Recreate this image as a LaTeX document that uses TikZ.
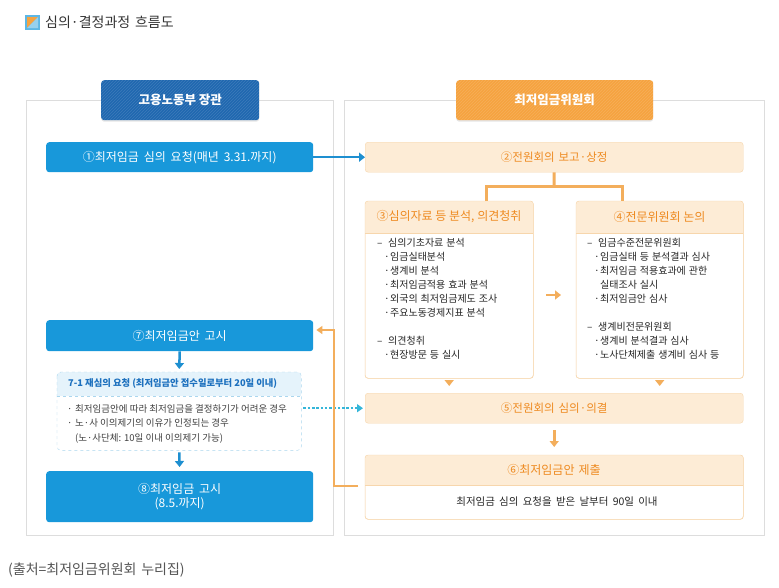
\documentclass[tikz,border=0pt]{standalone}
\usepackage{fontspec}
\setmainfont{Noto Sans CJK KR}
\usetikzlibrary{arrows.meta,patterns,shadows}
\definecolor{mblue}{RGB}{24,152,218}
\definecolor{dblue}{RGB}{32,104,176}
\definecolor{horange}{RGB}{245,163,64}
\definecolor{peach}{RGB}{253,236,214}
\definecolor{peachline}{RGB}{247,214,172}
\definecolor{otext}{RGB}{238,138,32}
\definecolor{oline}{RGB}{243,174,92}
\definecolor{barrow}{RGB}{30,143,208}
\definecolor{dotc}{RGB}{53,182,217}
\definecolor{panelc}{RGB}{221,221,221}
\definecolor{lblue}{RGB}{229,243,251}
\definecolor{lbline}{RGB}{170,214,238}
\definecolor{hbtext}{RGB}{28,112,190}
\definecolor{titlec}{RGB}{51,51,51}
\definecolor{srcc}{RGB}{85,85,85}
\newcommand\mydash{\makebox[11pt][l]{–}}
\newcommand\mybul{\hspace*{7pt}\makebox[6pt][l]{·}}
\newcommand\mybulb{\makebox[8pt][l]{·}}
\newcommand\wsp[1]{\spaceskip=#1\fontdimen2\font\relax}
\begin{document}
\begin{tikzpicture}[x=1pt,y=-1pt,
  panel/.style={draw=panelc,line width=1pt,fill=white,inner sep=0},
  hdrbox/.style={rounded corners=3pt,text=white,inner sep=0,
    font=\fontsize{12.5}{14}\selectfont\bfseries,
    drop shadow={shadow xshift=0pt,shadow yshift=-1.5pt,opacity=0.2},
    postaction={pattern=north east lines,pattern color=white,opacity=0.13}},
  bluebox/.style={rounded corners=3pt,fill=mblue,text=white,inner sep=0,
    font=\fontsize{12}{14}\selectfont\wsp{1.8},align=center},
  peachbox/.style={rounded corners=3pt,fill=peach,draw=peachline,text=otext,inner sep=0,
    font=\fontsize{11.5}{14}\selectfont\wsp{1.5}},
  framebox/.style={rounded corners=3pt,fill=white,draw=peachline,inner sep=0},
  hdrtxt/.style={text=otext,inner sep=0,font=\fontsize{12}{14}\selectfont},
  bodytxt/.style={inner sep=0,align=left,text=black!85,font=\fontsize{10}{14}\selectfont\wsp{1.3}},
  oarr/.style={draw=oline,line width=3pt,-{Triangle[length=6pt,width=9pt]}},
  barr/.style={draw=barrow,line width=2.5pt,-{Triangle[length=6pt,width=9pt]}},
  oconn/.style={draw=oline,line width=3pt},
  retline/.style={draw=oline,line width=2pt,-{Triangle[length=6pt,width=8pt]}},
  dotline/.style={draw=dotc,line width=2.5pt,dash pattern=on 2.5pt off 1.8pt,-{Triangle[length=6pt,width=8pt]}}
]
\useasboundingbox[fill=white] (0,0) rectangle (779,587);

% title
\fill[mblue!70] (25,15) rectangle (40,30);
\fill[horange] (27,17) -- (38,17) -- (27,28) -- cycle;
\fill[mblue!45] (38,17) -- (38,28) -- (27,28) -- cycle;
\node[anchor=west,inner sep=0,text=titlec,font=\fontsize{14}{16}\selectfont\wsp{1.5}] (title) at (45,22.5) {심의·결정과정 흐름도};

% panels
\node[panel,minimum width=307,minimum height=435,anchor=north west] (p1) at (26,100) {};
\node[panel,minimum width=420,minimum height=435,anchor=north west] (p2) at (344,100) {};

% headers
\node[hdrbox,fill=dblue,minimum width=158,minimum height=40,anchor=north west] (h1) at (101,80) {고용노동부 장관};
\node[hdrbox,fill=horange,minimum width=197,minimum height=40,anchor=north west] (h2) at (456,80) {최저임금위원회};

% box 1
\node[bluebox,minimum width=267,minimum height=30,anchor=north west] (b1) at (46,142) {①최저임금 심의 요청(매년 3.31.까지)};
% box 2
\node[peachbox,minimum width=378,minimum height=30,anchor=north west] (b2) at (365,142) {②전원회의 보고·상정};

% box 3
\node[framebox,minimum width=168,minimum height=177,anchor=north west] (b3) at (365,201) {};
\begin{scope}
\clip[rounded corners=3pt] (b3.north west) rectangle (b3.south east);
\fill[peach] (365,201) rectangle (533,233);
\end{scope}
\draw[peachline] (365,233) -- (533,233);
\draw[peachline,rounded corners=3pt] (b3.north west) rectangle (b3.south east);
\node[hdrtxt] (b3h) at (449,217) {③심의자료 등 분석, 의견청취};
\node[bodytxt,anchor=north west] (b3b) at (377,238.2) {\mydash 심의기초자료 분석\\
\mybul 임금실태분석\\
\mybul 생계비 분석\\
\mybul 최저임금적용 효과 분석\\
\mybul 외국의 최저임금제도 조사\\
\mybul 주요노동경제지표 분석\\[14pt]
\mydash 의견청취\\
\mybul 현장방문 등 실시};

% box 4
\node[framebox,minimum width=167,minimum height=177,anchor=north west] (b4) at (576,201) {};
\begin{scope}
\clip[rounded corners=3pt] (b4.north west) rectangle (b4.south east);
\fill[peach] (576,201) rectangle (743,233);
\end{scope}
\draw[peachline] (576,233) -- (743,233);
\draw[peachline,rounded corners=3pt] (b4.north west) rectangle (b4.south east);
\node[hdrtxt] (b4h) at (659.5,217) {④전문위원회 논의};
\node[bodytxt,anchor=north west] (b4b) at (587,238.2) {\mydash 임금수준전문위원회\\
\mybul 임금실태 등 분석결과 심사\\
\mybul 최저임금 적용효과에 관한\\
\hspace*{13pt}실태조사 실시\\
\mybul 최저임금안 심사\\[14pt]
\mydash 생계비전문위원회\\
\mybul 생계비 분석결과 심사\\
\mybul 노사단체제출 생계비 심사 등};

% box 5
\node[peachbox,minimum width=378,minimum height=30,anchor=north west] (b5) at (365,393) {⑤전원회의 심의·의결};

% box 6
\node[framebox,minimum width=378,minimum height=64,anchor=north west] (b6) at (365,455) {};
\begin{scope}
\clip[rounded corners=3pt] (b6.north west) rectangle (b6.south east);
\fill[peach] (365,455) rectangle (743,485);
\end{scope}
\draw[peachline] (365,485) -- (743,485);
\draw[peachline,rounded corners=3pt] (b6.north west) rectangle (b6.south east);
\node[hdrtxt,font=\fontsize{12}{14}\selectfont\wsp{1.5}] (b6h) at (554,470) {⑥최저임금안 제출};
\node[bodytxt,font=\fontsize{10.5}{14}\selectfont\wsp{1.8}] (b6b) at (557,502) {최저임금 심의 요청을 받은 날부터 90일 이내};

% box 7
\node[bluebox,minimum width=267,minimum height=31,anchor=north west] (b7) at (46,320) {⑦최저임금안 고시};

% box 7-1
\node[inner sep=0,minimum width=244,minimum height=78,anchor=north west] (b71) at (57,372) {};
\begin{scope}
\clip[rounded corners=4pt] (b71.north west) rectangle (b71.south east);
\fill[lblue] (57,372) rectangle (301,396);
\end{scope}
\draw[lbline,dashed,rounded corners=4pt] (b71.north west) rectangle (b71.south east);
\draw[lbline,dashed] (57,396) -- (301,396);
\node[anchor=west,inner sep=0,text=hbtext,font=\fontsize{9.3}{11}\selectfont\bfseries] (b71h) at (68,384) {7-1 재심의 요청 (최저임금안 접수일로부터 20일 이내)};
\node[bodytxt,text=black!75,anchor=north west,font=\fontsize{9.5}{14.5}\selectfont] (b71b) at (67,404) {\mybulb 최저임금안에 따라 최저임금을 결정하기가 어려운 경우\\
\mybulb 노·사 이의제기의 이유가 인정되는 경우\\
\hspace*{8pt}(노·사단체: 10일 이내 이의제기 가능)};

% box 8
\node[bluebox,minimum width=267,minimum height=51,anchor=north west] (b8) at (46,471) {⑧최저임금 고시\\(8.5.까지)};

% connectors
\draw[barr] (b1.east) -- (b2.west);
\coordinate (j) at (554,186);
\coordinate (jl) at (486,186);
\coordinate (jr) at (622,186);
\draw[oconn] (b2.south) -- (j);
\draw[oconn] (jl |- b3.north) -- (jl) -- (jr) -- (jr |- b4.north);
\draw[oarr,line width=2pt,shorten <=13pt,shorten >=15pt] (b3.east |- 0,295) -- (b4.west |- 0,295);
\draw[oarr,line width=2pt,shorten <=2pt,shorten >=7pt] (b3.south) -- (b3.south |- b5.north);
\draw[oarr,line width=2pt,shorten <=2pt,shorten >=7pt] (b4.south) -- (b4.south |- b5.north);
\draw[oarr,shorten <=7pt,shorten >=8pt] (b5.south) -- (b6.north);
\draw[barr,shorten >=3pt] (b7.south) -- (b71.north);
\draw[barr,shorten <=2pt,shorten >=4pt] (b71.south) -- (b8.north);
\draw[dotline,shorten <=2pt,shorten >=2pt] (b5.west -| b71.east) -- (b5.west);
\coordinate (rc) at (334,330);
\draw[retline,shorten <=7pt,shorten >=3pt] (b6.west |- 0,486) -| (rc) -- (rc -| b7.east);

% source
\node[anchor=west,inner sep=0,text=srcc,font=\fontsize{14}{16}\selectfont\wsp{1.5}] (src) at (8,570) {(출처=최저임금위원회 누리집)};
\end{tikzpicture}
\end{document}
